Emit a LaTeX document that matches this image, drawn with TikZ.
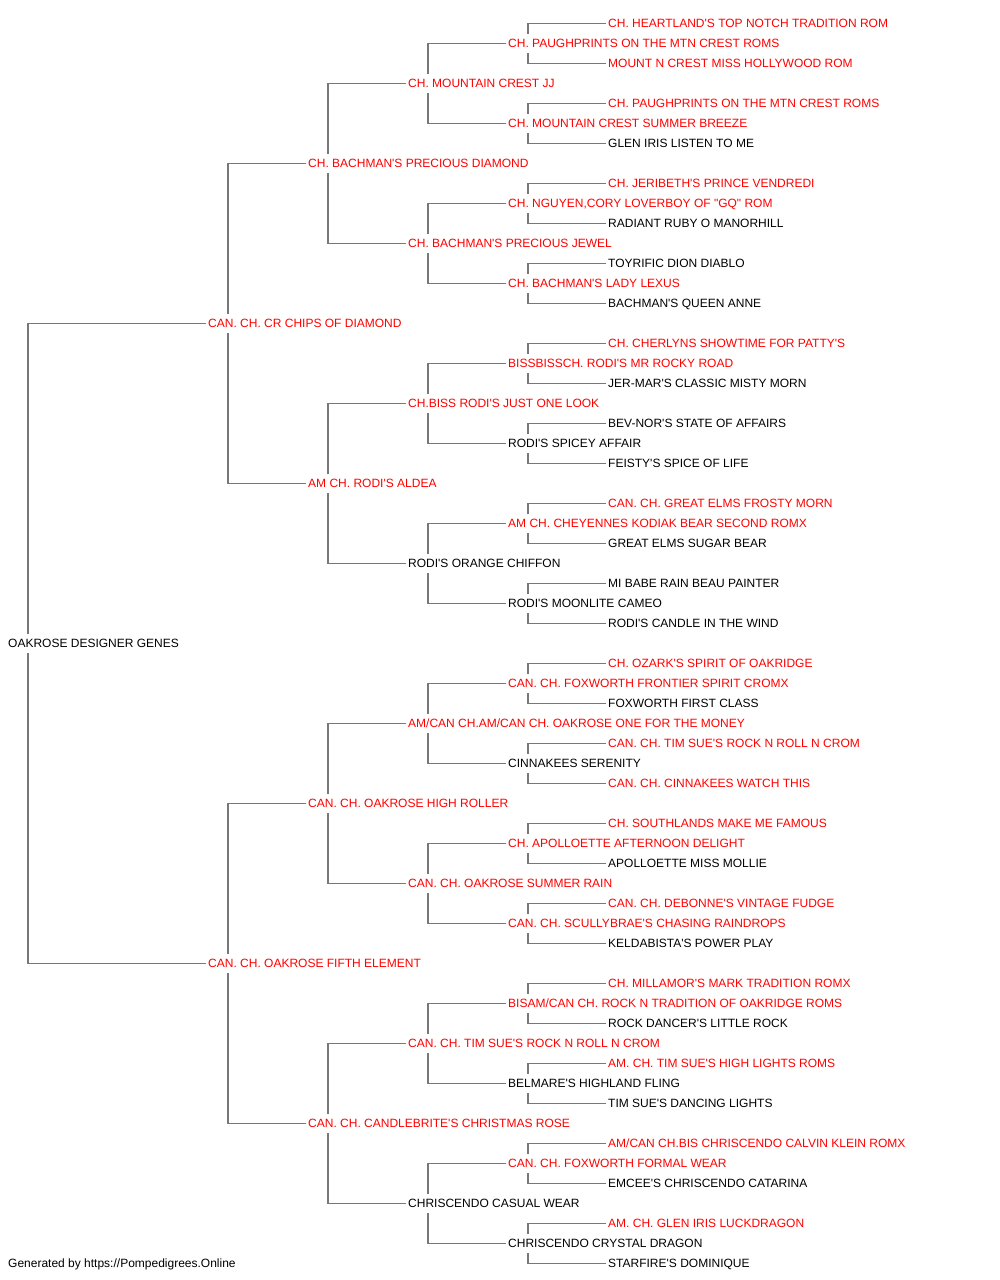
\documentclass[tikz,border=0pt]{standalone}
\usepackage{fontspec}
\setmainfont{Liberation Sans}[Ligatures=TeXOff]
\usetikzlibrary{calc}
\definecolor{pr}{RGB}{255,0,0}
\definecolor{pk}{RGB}{0,0,0}
\definecolor{linegray}{RGB}{120,120,120}
\tikzset{
  lbl/.style={anchor=west, inner xsep=2.5pt, inner ysep=5.2pt, text height=8.6pt, text depth=0pt, font=\fontsize{12}{14}\selectfont},
  link/.style={draw=linegray, line width=1.6pt}
}
\begin{document}
\begin{tikzpicture}[x=1pt,y=-1pt]
\useasboundingbox (0,0) rectangle (1000,1280);
\foreach \i/\g/\c/\t in {
0/5/pr/{CH. HEARTLAND'S TOP NOTCH TRADITION ROM},
1/4/pr/{CH. PAUGHPRINTS ON THE MTN CREST ROMS},
2/5/pr/{MOUNT N CREST MISS HOLLYWOOD ROM},
3/3/pr/{CH. MOUNTAIN CREST JJ},
4/5/pr/{CH. PAUGHPRINTS ON THE MTN CREST ROMS},
5/4/pr/{CH. MOUNTAIN CREST SUMMER BREEZE},
6/5/pk/{GLEN IRIS LISTEN TO ME},
7/2/pr/{CH. BACHMAN'S PRECIOUS DIAMOND},
8/5/pr/{CH. JERIBETH'S PRINCE VENDREDI},
9/4/pr/{CH. NGUYEN,CORY LOVERBOY OF "GQ" ROM},
10/5/pk/{RADIANT RUBY O MANORHILL},
11/3/pr/{CH. BACHMAN'S PRECIOUS JEWEL},
12/5/pk/{TOYRIFIC DION DIABLO},
13/4/pr/{CH. BACHMAN'S LADY LEXUS},
14/5/pk/{BACHMAN'S QUEEN ANNE},
15/1/pr/{CAN. CH. CR CHIPS OF DIAMOND},
16/5/pr/{CH. CHERLYNS SHOWTIME FOR PATTY'S},
17/4/pr/{BISSBISSCH. RODI'S MR ROCKY ROAD},
18/5/pk/{JER-MAR'S CLASSIC MISTY MORN},
19/3/pr/{CH.BISS RODI'S JUST ONE LOOK},
20/5/pk/{BEV-NOR'S STATE OF AFFAIRS},
21/4/pk/{RODI'S SPICEY AFFAIR},
22/5/pk/{FEISTY'S SPICE OF LIFE},
23/2/pr/{AM CH. RODI'S ALDEA},
24/5/pr/{CAN. CH. GREAT ELMS FROSTY MORN},
25/4/pr/{AM CH. CHEYENNES KODIAK BEAR SECOND ROMX},
26/5/pk/{GREAT ELMS SUGAR BEAR},
27/3/pk/{RODI'S ORANGE CHIFFON},
28/5/pk/{MI BABE RAIN BEAU PAINTER},
29/4/pk/{RODI'S MOONLITE CAMEO},
30/5/pk/{RODI'S CANDLE IN THE WIND},
31/0/pk/{OAKROSE DESIGNER GENES},
32/5/pr/{CH. OZARK'S SPIRIT OF OAKRIDGE},
33/4/pr/{CAN. CH. FOXWORTH FRONTIER SPIRIT CROMX},
34/5/pk/{FOXWORTH FIRST CLASS},
35/3/pr/{AM/CAN CH.AM/CAN CH. OAKROSE ONE FOR THE MONEY},
36/5/pr/{CAN. CH. TIM SUE'S ROCK N ROLL N CROM},
37/4/pk/{CINNAKEES SERENITY},
38/5/pr/{CAN. CH. CINNAKEES WATCH THIS},
39/2/pr/{CAN. CH. OAKROSE HIGH ROLLER},
40/5/pr/{CH. SOUTHLANDS MAKE ME FAMOUS},
41/4/pr/{CH. APOLLOETTE AFTERNOON DELIGHT},
42/5/pk/{APOLLOETTE MISS MOLLIE},
43/3/pr/{CAN. CH. OAKROSE SUMMER RAIN},
44/5/pr/{CAN. CH. DEBONNE'S VINTAGE FUDGE},
45/4/pr/{CAN. CH. SCULLYBRAE'S CHASING RAINDROPS},
46/5/pk/{KELDABISTA'S POWER PLAY},
47/1/pr/{CAN. CH. OAKROSE FIFTH ELEMENT},
48/5/pr/{CH. MILLAMOR'S MARK TRADITION ROMX},
49/4/pr/{BISAM/CAN CH. ROCK N TRADITION OF OAKRIDGE ROMS},
50/5/pk/{ROCK DANCER'S LITTLE ROCK},
51/3/pr/{CAN. CH. TIM SUE'S ROCK N ROLL N CROM},
52/5/pr/{AM. CH. TIM SUE'S HIGH LIGHTS ROMS},
53/4/pk/{BELMARE'S HIGHLAND FLING},
54/5/pk/{TIM SUE'S DANCING LIGHTS},
55/2/pr/{CAN. CH. CANDLEBRITE'S CHRISTMAS ROSE},
56/5/pr/{AM/CAN CH.BIS CHRISCENDO CALVIN KLEIN ROMX},
57/4/pr/{CAN. CH. FOXWORTH FORMAL WEAR},
58/5/pk/{EMCEE'S CHRISCENDO CATARINA},
59/3/pk/{CHRISCENDO CASUAL WEAR},
60/5/pr/{AM. CH. GLEN IRIS LUCKDRAGON},
61/4/pk/{CHRISCENDO CRYSTAL DRAGON},
62/5/pk/{STARFIRE'S DOMINIQUE}}
{
  \pgfmathsetmacro{\xx}{ifthenelse(\g==0,8,108+100*\g)-2.5}
  \node[lbl, text=\c] (n\i) at (\xx,{24+20*\i-0.5}) {\t};
}
\node[lbl, text=pk] (foot) at (5.5,1263.5) {Generated by https://Pompedigrees.Online};
\foreach \p/\d in {31/16,15/8,47/8,7/4,23/4,39/4,55/4,
  3/2,11/2,19/2,27/2,35/2,43/2,51/2,59/2,
  1/1,5/1,9/1,13/1,17/1,21/1,25/1,29/1,33/1,37/1,41/1,45/1,49/1,53/1,57/1,61/1}
{
  \pgfmathtruncatemacro{\ua}{\p-\d}
  \pgfmathtruncatemacro{\ub}{\p+\d}
  \draw[link] ($(n\p.north west)+(22.5,0)$) |- (n\ua.west);
  \draw[link] ($(n\p.south west)+(22.5,0)$) |- (n\ub.west);
}
\end{tikzpicture}
\end{document}
